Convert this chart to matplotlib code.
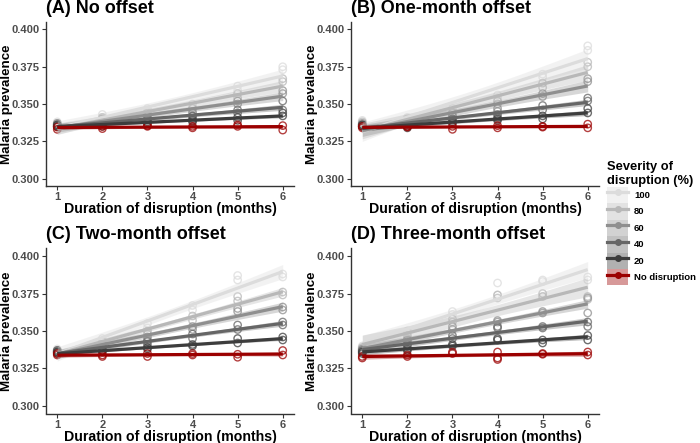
import numpy as np
import matplotlib
matplotlib.use("Agg")
import matplotlib.pyplot as plt
from matplotlib.lines import Line2D
from matplotlib.patches import Patch

plt.rcParams['font.family'] = ['Liberation Sans', 'DejaVu Sans']

months = [1, 2, 3, 4, 5, 6]
level_labels = ['100', '80', '60', '40', '20', 'No disruption']
level_colors = ['#dcdcdc', '#b8b8b8', '#8f8f8f', '#666666', '#3d3d3d', '#9b0000']
panel_titles = ['(A) No offset', '(B) One-month offset',
                '(C) Two-month offset', '(D) Three-month offset']
y_ticks = [0.300, 0.325, 0.350, 0.375, 0.400]

# replicate prevalence values: per severity level, per month (1..6)
panel_A = [
    [[0.338, 0.336], [0.343, 0.341], [0.347, 0.345], [0.350, 0.348], [0.362, 0.359], [0.375, 0.373]],
    [[0.337, 0.335], [0.341, 0.339], [0.344, 0.342], [0.347, 0.345], [0.357, 0.354], [0.367, 0.365]],
    [[0.337, 0.335], [0.340, 0.338], [0.342, 0.340], [0.344, 0.342], [0.352, 0.350], [0.359, 0.357]],
    [[0.336, 0.335], [0.338, 0.337], [0.340, 0.339], [0.342, 0.340], [0.346, 0.344], [0.352, 0.346]],
    [[0.336, 0.335], [0.337, 0.335], [0.338, 0.337], [0.339, 0.338], [0.341, 0.339], [0.344, 0.342]],
    [[0.3345, 0.333], [0.335, 0.3335], [0.3355, 0.335], [0.335, 0.334], [0.336, 0.335], [0.3355, 0.3325]],
]
panel_B = [
    [[0.339, 0.337], [0.341, 0.339], [0.347, 0.345], [0.356, 0.354], [0.370, 0.368], [0.389, 0.386]],
    [[0.338, 0.336], [0.340, 0.338], [0.344, 0.342], [0.352, 0.350], [0.364, 0.361], [0.378, 0.375]],
    [[0.337, 0.335], [0.339, 0.337], [0.342, 0.340], [0.347, 0.345], [0.357, 0.355], [0.367, 0.365]],
    [[0.336, 0.335], [0.338, 0.336], [0.340, 0.339], [0.343, 0.341], [0.349, 0.346], [0.354, 0.352]],
    [[0.336, 0.335], [0.335, 0.334], [0.338, 0.337], [0.340, 0.339], [0.342, 0.340], [0.347, 0.344]],
    [[0.335, 0.334], [0.335, 0.3345], [0.335, 0.333], [0.3355, 0.334], [0.335, 0.3345], [0.3365, 0.334]],
]
panel_C = [
    [[0.338, 0.337], [0.345, 0.343], [0.355, 0.352], [0.367, 0.364], [0.387, 0.384], [0.388, 0.386]],
    [[0.337, 0.336], [0.343, 0.341], [0.350, 0.348], [0.360, 0.357], [0.373, 0.370], [0.376, 0.374]],
    [[0.337, 0.336], [0.341, 0.339], [0.346, 0.344], [0.353, 0.351], [0.365, 0.363], [0.366, 0.364]],
    [[0.337, 0.336], [0.339, 0.337], [0.343, 0.341], [0.348, 0.345], [0.354, 0.351], [0.356, 0.354]],
    [[0.336, 0.335], [0.337, 0.336], [0.339, 0.338], [0.341, 0.340], [0.345, 0.342], [0.346, 0.344]],
    [[0.335, 0.334], [0.334, 0.333], [0.335, 0.333], [0.335, 0.334], [0.3345, 0.3325], [0.337, 0.334]],
]
panel_D = [
    [[0.340, 0.339], [0.350, 0.349], [0.363, 0.361], [0.382, 0.374], [0.384, 0.383], [0.386, 0.384]],
    [[0.339, 0.338], [0.347, 0.345], [0.358, 0.356], [0.374, 0.372], [0.375, 0.373], [0.373, 0.371]],
    [[0.338, 0.337], [0.344, 0.343], [0.353, 0.351], [0.357, 0.356], [0.363, 0.362], [0.372, 0.362]],
    [[0.337, 0.336], [0.341, 0.340], [0.347, 0.345], [0.353, 0.352], [0.353, 0.352], [0.356, 0.353]],
    [[0.336, 0.335], [0.338, 0.337], [0.341, 0.340], [0.345, 0.344], [0.344, 0.342], [0.347, 0.344]],
    [[0.333, 0.332], [0.334, 0.333], [0.336, 0.335], [0.336, 0.332, 0.331], [0.335, 0.3345], [0.336, 0.334]],
]
panels = [panel_A, panel_B, panel_C, panel_D]

W, H = 700, 443
fig = plt.figure(figsize=(7, 4.43), dpi=100)

def rect(l, t, r, b):
    return [l / W, 1 - b / H, (r - l) / W, (b - t) / H]

rects = [rect(46, 22, 294, 186), rect(351, 22, 599, 186),
         rect(46, 248.5, 294, 413.5), rect(351, 248.5, 599, 413.5)]

txt_col = '#4d4d4d'
for ax_i, (r, data, title) in enumerate(zip(rects, panels, panel_titles)):
    ax = fig.add_axes(r)
    for lvl, (reps, col) in enumerate(zip(data, level_colors)):
        xs, ys = [], []
        for m, vals in zip(months, reps):
            xs += [m] * len(vals)
            ys += vals
        xs = np.array(xs, float)
        ys = np.array(ys, float)
        ax.scatter(xs, ys, s=28, facecolors='none', edgecolors=col,
                   linewidths=1.0, alpha=0.75, zorder=2 + lvl * 0.01)
        # linear fit with 95% CI (like geom_smooth(method='lm'))
        b, a = np.polyfit(xs, ys, 1)
        n = len(xs)
        res = ys - (a + b * xs)
        s = np.sqrt(np.sum(res ** 2) / (n - 2))
        xbar = xs.mean()
        sxx = np.sum((xs - xbar) ** 2)
        xf = np.linspace(1, 6, 60)
        yf = a + b * xf
        se = s * np.sqrt(1 / n + (xf - xbar) ** 2 / sxx)
        ax.fill_between(xf, yf - 2.2 * se, yf + 2.2 * se, color=col,
                        alpha=0.35, linewidth=0, zorder=3 + lvl * 0.01)
        ax.plot(xf, yf, color=col, lw=2.3, solid_capstyle='butt',
                zorder=4 + lvl * 0.01)
    ax.set_xlim(0.75, 6.25)
    ax.set_ylim(0.295, 0.405)
    ax.set_xticks(months)
    ax.set_yticks(y_ticks)
    ax.set_yticklabels([f'{v:.3f}' for v in y_ticks])
    for sp in ['top', 'right']:
        ax.spines[sp].set_visible(False)
    for sp in ['left', 'bottom']:
        ax.spines[sp].set_color('#333333')
        ax.spines[sp].set_linewidth(1.0)
    ax.tick_params(axis='both', length=3, width=0.8, color='#333333',
                   labelcolor=txt_col, labelsize=8, pad=1.5)
    for lab in ax.get_xticklabels() + ax.get_yticklabels():
        lab.set_fontweight('bold')
    ax.set_xlabel('Duration of disruption (months)', fontsize=10.2,
                  fontweight='bold', color='black')
    ax.set_ylabel('Malaria prevalence', fontsize=9.6, fontweight='bold',
                  color='black')
    ax.xaxis.set_label_coords(0.5, -0.10)
    ax.yaxis.set_label_coords(-0.133, 0.5)
    ax.text(0.0, 1 + 9 / 164, title, transform=ax.transAxes, fontsize=13,
            fontweight='bold', ha='left', va='baseline')

handles = []
for col in level_colors:
    handles.append((Patch(facecolor=col, alpha=0.4, edgecolor='none'),
                    Line2D([], [], color=col, lw=2.3, marker='o', ms=4,
                           mfc=col, mec=col)))
leg = fig.legend(handles, level_labels, loc='upper left',
                 bbox_to_anchor=(607 / W, 1 - 161 / H),
                 title='Severity of\ndisruption (%)', frameon=False,
                 prop={'size': 6.8, 'weight': 'bold'},
                 title_fontproperties={'size': 9.3, 'weight': 'bold'},
                 handlelength=2.25, handleheight=2.3, labelspacing=0,
                 handletextpad=0.6, borderpad=0.0, borderaxespad=0)
leg._legend_box.align = 'left'

fig.savefig('out.png', dpi=100)
